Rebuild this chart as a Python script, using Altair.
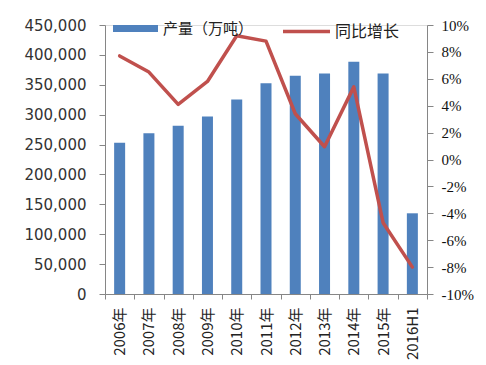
import altair as alt
import pandas as pd

years = ["2006年", "2007年", "2008年", "2009年", "2010年", "2011年",
         "2012年", "2013年", "2014年", "2015年", "2016H1"]
output = [253000, 269000, 281500, 297000, 325500, 352500,
          365000, 369000, 388500, 369000, 135000]
growth = [0.077, 0.065, 0.041, 0.058, 0.092, 0.088,
          0.034, 0.0095, 0.054, -0.047, -0.080]
bar_name = "产量（万吨）"
line_name = "同比增长"

df = pd.DataFrame({"year": years, "output": output, "growth": growth,
                   "s1": bar_name, "s2": line_name})

cjk = "Noto Sans CJK SC"

x_enc = alt.X("year:N", sort=years, title=None,
              scale=alt.Scale(paddingInner=0, paddingOuter=0),
              axis=alt.Axis(labelAngle=270, labelFont=cjk, labelFontSize=15,
                            labelColor="#222222", tickBand="extent", tickSize=5,
                            labelPadding=8, domainColor="#868686",
                            tickColor="#868686", grid=False))

bars = alt.Chart(df).mark_bar(size=11).encode(
    x=x_enc,
    y=alt.Y("output:Q", title=None,
            scale=alt.Scale(domain=[0, 450000], nice=False),
            axis=alt.Axis(values=list(range(0, 450001, 50000)), format=",.0f",
                          labelFont="DejaVu Sans", labelFontSize=15,
                          labelColor="#333333", tickSize=6, labelPadding=13,
                          domainColor="#868686", tickColor="#868686",
                          grid=False, orient="left")),
    color=alt.Color("s1:N", scale=alt.Scale(range=["#4F81BD"]),
                    legend=alt.Legend(title=None, orient="none", legendX=8,
                                      legendY=-19, padding=0,
                                      symbolType="M-1,-0.16H1V0.16H-1Z",
                                      symbolSize=2025, symbolStrokeWidth=0,
                                      labelFont=cjk, labelFontSize=15,
                                      labelOffset=5, labelColor="#222222")),
)

line = alt.Chart(df).mark_line(strokeWidth=3.5, strokeJoin="round",
                               strokeCap="round").encode(
    x=alt.X("year:N", sort=years),
    y=alt.Y("growth:Q", title=None,
            scale=alt.Scale(domain=[-0.1, 0.1], nice=False),
            axis=alt.Axis(values=[-0.1, -0.08, -0.06, -0.04, -0.02, 0,
                                  0.02, 0.04, 0.06, 0.08, 0.1],
                          labelExpr="(datum.value < -0.001 ? '-' : '') + format(abs(datum.value), '.0%')",
                          labelFont="Liberation Serif",
                          labelFontSize=15, labelColor="#111111",
                          tickSize=6, labelPadding=8,
                          domainColor="#868686", tickColor="#868686",
                          grid=False, orient="right")),
    stroke=alt.Stroke("s2:N", scale=alt.Scale(range=["#C0504D"]),
                      legend=alt.Legend(title=None, orient="none", legendX=176,
                                        legendY=-19, padding=0,
                                        symbolType="stroke", symbolSize=2209,
                                        symbolStrokeWidth=3.5,
                                        labelFont=cjk, labelFontSize=16,
                                        labelOffset=3, labelColor="#222222")),
)

chart = alt.layer(bars, line).resolve_scale(y="independent").properties(
    width=322, height=269,
    autosize=alt.AutoSizeParams(type="none"),
    padding={"left": 97, "top": 17, "right": 51, "bottom": 70},
).configure_view(stroke=None).configure(background="white")

chart.save("out.html", embed_options={"renderer": "svg", "actions": False})
